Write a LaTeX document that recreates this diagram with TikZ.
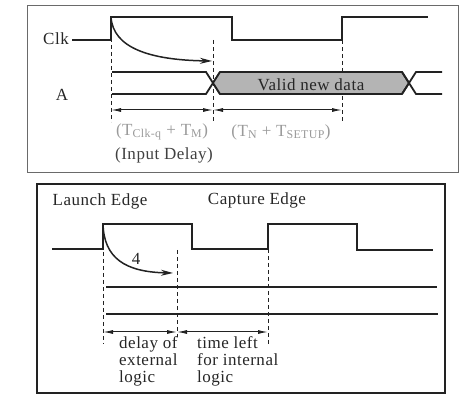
\documentclass[tikz,border=0pt]{standalone}
\usepackage{fontspec}
\setmainfont{Liberation Serif}
\usetikzlibrary{arrows.meta}
\definecolor{WaveInk}{HTML}{222222}
\definecolor{DataFill}{HTML}{B4B4B4}
\definecolor{NoteGrey}{HTML}{9A9A9A}
\definecolor{FrameGrey}{HTML}{6A6A6A}
\tikzset{
  wave/.style  = {draw=WaveInk, line width=2pt, line join=miter},
  bus/.style   = {draw=WaveInk, line width=1.8pt},
  guide/.style = {draw=WaveInk, dash pattern=on 4pt off 3pt, line width=0.9pt},
  span/.style  = {{Latex[length=10pt,width=4pt]}-{Latex[length=10pt,width=4pt]},
                  draw=WaveInk, line width=1pt},
  delay/.style = {-{Stealth[length=12pt,width=6pt]}, draw=WaveInk, line width=1.5pt},
  lbl/.style   = {font=\fontsize{17}{17}\selectfont\addfontfeature{LetterSpace=3},
                  text=black!85, inner sep=0pt},
  note/.style  = {lbl, align=left, anchor=north west},
}

\begin{document}
\begin{tikzpicture}[x=1pt, y=-1pt]
  \useasboundingbox (0,0) rectangle (469,403);

  % upper panel: Clk and A
  \draw[draw=FrameGrey, line width=0.9pt] (27,5) rectangle (458,172);

  \node[lbl] (clk)  at (56,39) {Clk};
  \node[lbl] (sigA) at (62,95) {A};

  \coordinate (launch)  at (111,17);
  \coordinate (fall)    at (232,40);
  \coordinate (capture) at (342,40);
  \coordinate (arrive)  at (213,40);

  \draw[wave] (72,40) -- (111,40) -- (launch) -- (232,17) -- (fall)
    -- (capture) -- (342,17) -- (428,17);

  \draw[guide] (launch)  -- (111,122);
  \draw[guide] (arrive)  -- (213,122);
  \draw[guide] (capture) -- (342,122);

  \draw[delay] (launch) .. controls (113,48) and (150,60) .. (212,61);

  \draw[bus] (112,72) -- (206,72) -- (220,94);
  \draw[bus] (112,94) -- (206,94) -- (220,72);
  \filldraw[bus, fill=DataFill] (213,83) -- (220,72) -- (402,72) -- (409,83)
    -- (402,94) -- (220,94) -- cycle;
  \draw[bus] (402,72) -- (416,94) -- (442,94);
  \draw[bus] (402,94) -- (416,72) -- (442,72);
  \node[lbl] (valid) at (311,85) {Valid new data};

  \coordinate (inL)  at (111,110);
  \coordinate (inR)  at (213,110);
  \coordinate (setR) at (342,110);
  \draw[span] (inL) -- (inR);
  \draw[span] (inR) -- (setR);

  \node[lbl, text=NoteGrey] (tin)  at (162,132)
    {(T\textsubscript{Clk-q} + T\textsubscript{M})};
  \node[lbl, text=NoteGrey] (tout) at (281,132)
    {(T\textsubscript{N} + T\textsubscript{SETUP})};
  \node[lbl, text=black!75] (indelay) at (164,155) {(Input Delay)};

  % lower panel: launch and capture
  \draw[draw=WaveInk, line width=1.8pt] (37,184) rectangle (445,393);

  \node[lbl] (launchtxt)  at (100,201) {Launch Edge};
  \node[lbl] (capturetxt) at (257,200) {Capture Edge};

  \coordinate (edgeA) at (103,224);
  \coordinate (edgeB) at (177,250);
  \coordinate (edgeC) at (268,249);

  \draw[wave] (52,249) -- (103,249) -- (edgeA) -- (192,224) -- (192,249)
    -- (edgeC) -- (268,224) -- (357,224) -- (357,250) -- (433,250);

  \draw[guide] (edgeA) -- (103,344);
  \draw[guide] (edgeB) -- (177,337);
  \draw[guide] (edgeC) -- (268,345);

  \draw[delay] (edgeA) .. controls (104,258) and (125,272) .. (173,273);
  \node[lbl] (four) at (136,259) {4};

  \draw[bus] (106,287) -- (437,287);
  \draw[bus] (106,314) -- (438,314);

  \coordinate (extL) at (103,332);
  \coordinate (extR) at (177,332);
  \coordinate (intR) at (268,332);
  \draw[span] (extL) -- (extR);
  \draw[span] (extR) -- (intR);

  \node[note] (extnote) at (119,336) {delay of\\external\\logic};
  \node[note] (intnote) at (197,336) {time left\\for internal\\logic};

\end{tikzpicture}
\end{document}
